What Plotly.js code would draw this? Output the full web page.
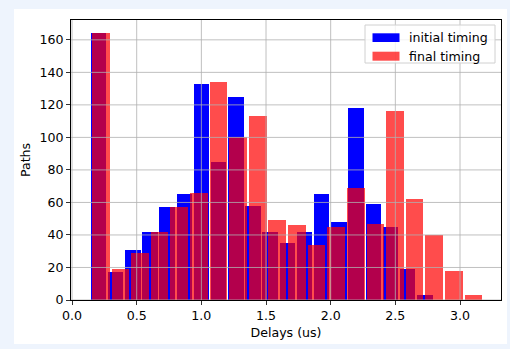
<!DOCTYPE html>
<html>
<head>
<meta charset="utf-8">
<script src="https://cdn.plot.ly/plotly-3.0.1.min.js"></script>
<style>
  html, body { margin: 0; padding: 0; background: #eef4fd; width: 510px; height: 349px; overflow: hidden; }
  #chart { position: absolute; left: 14px; top: 9px; width: 493px; height: 335px; background: #ffffff; }
</style>
</head>
<body>
<div id="chart"></div>
<script>
// ---- data ----
const seriesNames = ["initial timing", "final timing"];
// histogram ranges (min, max of delays, us); 20 equal bins each
const initialRange = [0.138, 2.794];
const finalRange = [0.147, 3.179];
const initialCounts = [164, 17, 31, 42, 57, 65, 133, 85, 125, 58, 42, 35, 42, 65, 48, 118, 59, 45, 19, 3];
const finalCounts   = [164, 19, 29, 42, 57, 66, 134, 100, 113, 49, 46, 34, 45, 69, 47, 116, 62, 40, 18, 3];
const xTickVals = [0.0, 0.5, 1.0, 1.5, 2.0, 2.5, 3.0];
const xTickText = ["0.0", "0.5", "1.0", "1.5", "2.0", "2.5", "3.0"];
const yTickVals = [0, 20, 40, 60, 80, 100, 120, 140, 160];
const xLabel = "Delays (us)";
const yLabel = "Paths";

// ---- build bins ----
function bins(range, counts) {
  const w = (range[1] - range[0]) / counts.length;
  const centers = counts.map((_, i) => range[0] + (i + 0.5) * w);
  return { centers, w };
}
const bi = bins(initialRange, initialCounts);
const bf = bins(finalRange, finalCounts);
const RW = 0.9;

const FONT = "DejaVu Sans, sans-serif";
const FS = 12.6;

const traces = [
  { type: "bar", name: seriesNames[0], x: bi.centers, y: initialCounts,
    width: bi.centers.map(() => bi.w * RW),
    marker: { color: "#0000ff", line: { width: 0 } }, showlegend: false, hoverinfo: "skip" },
  { type: "bar", name: seriesNames[1], x: bf.centers, y: finalCounts,
    width: bf.centers.map(() => bf.w * RW),
    marker: { color: "rgba(255,0,0,0.7)", line: { width: 0 } }, showlegend: false, hoverinfo: "skip" }
];

const shapes = [];
const gridStyle = { color: "#b0b0b0", width: 0.8 };
yTickVals.forEach(v => shapes.push({ type: "line", layer: "above", xref: "paper", x0: 0, x1: 1, yref: "y", y0: v, y1: v, line: gridStyle }));
xTickVals.forEach(v => shapes.push({ type: "line", layer: "above", yref: "paper", y0: 0, y1: 1, xref: "x", x0: v, x1: v, line: gridStyle }));

// legend (matplotlib style)
const PW = 430, PH = 280;
const px = p => p / PW, py = p => 1 - p / PH;
shapes.push({ type: "rect", layer: "above", xref: "paper", yref: "paper",
  x0: px(294), x1: px(424), y0: py(5), y1: py(43),
  fillcolor: "rgba(255,255,255,0.8)", line: { color: "#d0d0d0", width: 1 } });
shapes.push({ type: "rect", layer: "above", xref: "paper", yref: "paper",
  x0: px(301.5), x1: px(328.5), y0: py(13.3), y1: py(22), fillcolor: "#0000ff", line: { width: 0 } });
shapes.push({ type: "rect", layer: "above", xref: "paper", yref: "paper",
  x0: px(301.5), x1: px(328.5), y0: py(31.7), y1: py(40.7), fillcolor: "rgba(255,0,0,0.7)", line: { width: 0 } });

const annotations = [
  { xref: "paper", yref: "paper", x: px(336), y: py(17.5), xanchor: "left", yanchor: "middle",
    text: seriesNames[0], showarrow: false, font: { family: FONT, size: FS, color: "#000" } },
  { xref: "paper", yref: "paper", x: px(336), y: py(36), xanchor: "left", yanchor: "middle",
    text: seriesNames[1], showarrow: false, font: { family: FONT, size: FS, color: "#000" } }
];

const layout = {
  width: 493, height: 335,
  margin: { l: 57, r: 6, t: 11, b: 44, pad: 0 },
  paper_bgcolor: "#ffffff", plot_bgcolor: "#ffffff",
  barmode: "overlay", bargap: 0,
  font: { family: FONT, size: FS, color: "#000" },
  showlegend: false,
  xaxis: {
    range: [-0.008, 3.317], tickvals: xTickVals, ticktext: xTickText,
    showgrid: false, zeroline: false, showline: true, mirror: true,
    linecolor: "#000", linewidth: 1, ticks: "outside", ticklen: 4, tickwidth: 0.8, tickcolor: "#000",
    tickfont: { family: FONT, size: FS, color: "#000" },
    title: { text: xLabel, font: { family: FONT, size: FS, color: "#000" }, standoff: 6 }
  },
  yaxis: {
    range: [0, 172.2], tickvals: yTickVals,
    showgrid: false, zeroline: false, showline: true, mirror: true,
    linecolor: "#000", linewidth: 1, ticks: "outside", ticklen: 4, tickwidth: 0.8, tickcolor: "#000",
    tickfont: { family: FONT, size: FS, color: "#000" },
    title: { text: yLabel, font: { family: FONT, size: FS, color: "#000" }, standoff: 6 }
  },
  shapes, annotations
};

Plotly.newPlot("chart", traces, layout, { displayModeBar: false, staticPlot: true });
</script>
</body>
</html>
